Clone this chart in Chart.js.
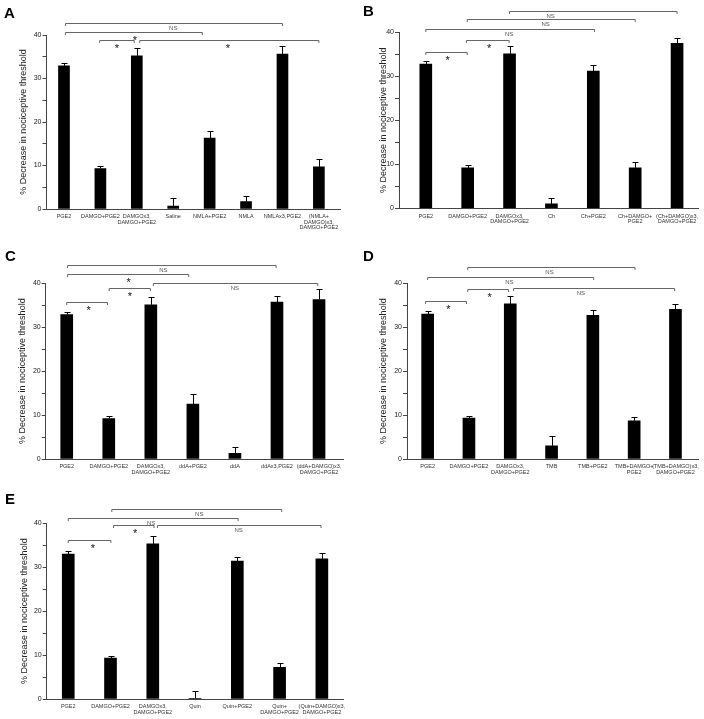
<!DOCTYPE html>
<html>
<head>
<meta charset="utf-8">
<script src="https://cdn.jsdelivr.net/npm/chart.js"></script>
<style>
  body { margin: 0; background: #fff; }
  #fig { position: relative; width: 704px; height: 719px; }
  canvas { position: absolute; }
  .lbl { position: absolute; font: bold 15px 'Liberation Sans', Arial, sans-serif; line-height: 1; color: #000; }
</style>
</head>
<body>
<div id="fig">
  <canvas id="cA" width="352" height="240" style="left:0;top:0"></canvas>
  <canvas id="cB" width="352" height="240" style="left:352px;top:0"></canvas>
  <canvas id="cC" width="352" height="240" style="left:0;top:240px"></canvas>
  <canvas id="cD" width="352" height="240" style="left:352px;top:240px"></canvas>
  <canvas id="cE" width="352" height="239" style="left:0;top:480px"></canvas>
  <div class="lbl" style="left:4px;top:5px">A</div>
  <div class="lbl" style="left:363px;top:3px">B</div>
  <div class="lbl" style="left:5px;top:248px">C</div>
  <div class="lbl" style="left:363px;top:248px">D</div>
  <div class="lbl" style="left:5px;top:491px">E</div>
</div>
<script>
// Panel A
const catsA = ['PGE2', 'DAMGO+PGE2', ['DAMGOx3,', 'DAMGO+PGE2'], 'Saline', 'NMLA+PGE2', 'NMLA', 'NMLAx3,PGE2', ['(NMLA+', 'DAMGO)x3,', 'DAMGO+PGE2']];
const valsA = [32.9, 9.3, 35.2, 0.7, 16.3, 1.7, 35.6, 9.7];
const semA = [0.6, 0.6, 1.7, 1.8, 1.7, 1.2, 1.8, 1.7];
// [from, to, level, text, text at]
const bracketsA = [[0.04, 6, 42.8, 'NS', 3], [0.04, 3.8, 40.6, '*', 1.95], [0.98, 1.93, 38.85, '*', 1.45], [2.08, 7, 38.85, '*', 4.5]];

// Panel B
const catsB = ['PGE2', 'DAMGO+PGE2', ['DAMGOx3,', 'DAMGO+PGE2'], 'Ch', 'Ch+PGE2', ['Ch+DAMGO+', 'PGE2'], ['(Ch+DAMGO)x3,', 'DAMGO+PGE2']];
const valsB = [32.8, 9.2, 35.1, 1.0, 31.2, 9.2, 37.5];
const semB = [0.6, 0.6, 1.8, 1.4, 1.3, 1.3, 1.3];
const bracketsB = [[2, 6, 44.9, 'NS', 2.98], [0.99, 5, 42.95, 'NS', 2.86], [0, 4.03, 40.8, 'NS', 1.99], [0.97, 1.99, 38.2, '*', 1.51], [0, 0.99, 35.6, '*', 0.52]];

// Panel C
const catsC = ['PGE2', 'DAMGO+PGE2', ['DAMGOx3,', 'DAMGO+PGE2'], 'ddA+PGE2', 'ddA', 'ddAx3,PGE2', ['(ddA+DAMGO)x3,', 'DAMGO+PGE2']];
const valsC = [32.9, 9.2, 35.1, 12.5, 1.3, 35.75, 36.3];
const semC = [0.6, 0.6, 1.7, 2.4, 1.35, 1.35, 2.3];
const bracketsC = [[0.02, 4.98, 44.2, 'NS', 2.3], [0.02, 2.9, 42.2, '*', 1.47], [2.06, 5.97, 40.15, 'NS', 4.0], [1.01, 1.99, 39.0, '*', 1.5], [0, 0.97, 35.8, '*', 0.52]];

// Panel D
const catsD = ['PGE2', 'DAMGO+PGE2', ['DAMGOx3,', 'DAMGO+PGE2'], 'TMB', 'TMB+PGE2', ['TMB+DAMGO+', 'PGE2'], ['(TMB+DAMGO)x3,', 'DAMGO+PGE2']];
const valsD = [33.0, 9.3, 35.3, 3.0, 32.7, 8.7, 34.1];
const semD = [0.6, 0.6, 1.7, 2.2, 1.15, 0.85, 1.1];
const bracketsD = [[0.97, 5.02, 43.6, 'NS', 2.95], [0, 4.02, 41.4, 'NS', 1.98], [0.97, 1.96, 38.6, '*', 1.5], [2.08, 5.98, 39.0, 'NS', 3.71], [-0.05, 0.94, 36.0, '*', 0.5]];

// Panel E
const catsE = ['PGE2', 'DAMGO+PGE2', ['DAMGOx3,', 'DAMGO+PGE2'], 'Quin', 'Quin+PGE2', ['Quin+', 'DAMGO+PGE2'], ['(Quin+DAMGO)x3,', 'DAMGO+PGE2']];
const valsE = [33.0, 9.3, 35.3, 0.15, 31.4, 7.2, 31.9];
const semE = [0.6, 0.6, 1.7, 1.65, 1.0, 1.1, 1.4];
const bracketsE = [[1.03, 5.05, 43.3, 'NS', 3.1], [0, 4.02, 41.2, 'NS', 1.96], [1.07, 2.03, 39.6, '*', 1.58], [2.11, 5.98, 39.5, 'NS', 4.03], [0, 1.01, 36.2, '*', 0.58]];

const FONT = "'Liberation Sans', Arial, sans-serif";

// error bars (upper only) and the significance brackets
const marks = {
  id: 'marks',
  afterDatasetsDraw(chart, args, opts) {
    const { ctx, scales: { x, y } } = chart;
    const ds = chart.data.datasets[0];
    ctx.save();
    ctx.strokeStyle = '#000';
    ctx.lineWidth = 1;
    ds.data.forEach((p, i) => {
      const px = Math.round(x.getPixelForValue(p.x)) + 0.5;
      const y0 = y.getPixelForValue(p.y);
      const y1 = Math.round(y.getPixelForValue(p.y + ds.sem[i])) + 0.5;
      ctx.beginPath();
      ctx.moveTo(px, y0);
      ctx.lineTo(px, y1);
      ctx.moveTo(px - 3, y1);
      ctx.lineTo(px + 3, y1);
      ctx.stroke();
    });
    ctx.textAlign = 'center';
    ctx.textBaseline = 'middle';
    opts.brackets.forEach(b => {
      const xa = x.getPixelForValue(b[0]);
      const xb = x.getPixelForValue(b[1]);
      const yl = Math.round(y.getPixelForValue(b[2])) + 0.5;
      ctx.strokeStyle = '#666';
      ctx.beginPath();
      ctx.moveTo(xa, yl + 2.5);
      ctx.lineTo(xa, yl);
      ctx.lineTo(xb, yl);
      ctx.lineTo(xb, yl + 2.5);
      ctx.stroke();
      const tx = x.getPixelForValue(b[4]);
      if (b[3] === '*') {
        ctx.fillStyle = '#111';
        ctx.font = '11px ' + FONT;
        ctx.fillText('*', tx, yl + 8);
      } else {
        ctx.fillStyle = '#555';
        ctx.font = '6px ' + FONT;
        ctx.fillText(b[3], tx, yl + 5);
      }
    });
    ctx.restore();
  }
};

function makePanel(id, cats, vals, sem, brackets, box) {
  const W = 352;
  new Chart(document.getElementById(id), {
    type: 'bar',
    data: {
      datasets: [{
        data: vals.map((v, i) => ({ x: i, y: v })),
        sem: sem,
        backgroundColor: '#000',
        barThickness: box.bar
      }]
    },
    options: {
      responsive: false,
      animation: false,
      layout: { padding: { left: 0, top: box.top, right: W - box.right, bottom: 0 } },
      plugins: {
        legend: { display: false },
        tooltip: { enabled: false },
        marks: { brackets: brackets }
      },
      scales: {
        x: {
          type: 'linear',
          offset: false,
          min: box.xmin,
          max: box.xmax,
          grid: { display: false, drawTicks: false, offset: false },
          border: { display: true, color: '#444', width: 1 },
          afterBuildTicks: a => { a.ticks = cats.map((c, i) => ({ value: i })); },
          afterFit: a => { a.height = box.h - box.bottom; },
          ticks: {
            callback: (v, i) => cats[i],
            maxRotation: 0,
            autoSkip: false,
            padding: 5,
            color: '#333',
            font: { family: FONT, size: 5.5, lineHeight: 1 }
          }
        },
        y: {
          min: 0,
          max: 40,
          afterFit: a => { a.width = box.left; },
          ticks: {
            stepSize: 5,
            callback: v => (v % 10 === 0 ? v : ''),
            padding: 1,
            color: '#222',
            font: { family: FONT, size: 7 }
          },
          grid: { drawOnChartArea: false, drawTicks: true, tickLength: 4, color: '#444' },
          border: { display: true, color: '#444', width: 1 },
          title: {
            display: true,
            text: '% Decrease in nociceptive threshold',
            color: '#222',
            font: { family: FONT, size: 9 },
            padding: { top: box.title, bottom: 0 }
          }
        }
      }
    },
    plugins: [marks]
  });
}

makePanel('cA', catsA, valsA, semA, bracketsA, { h: 240, left: 46.5, right: 340, top: 35, bottom: 209, xmin: -0.48, xmax: 7.58, bar: 11, title: 18.6 });
makePanel('cB', catsB, valsB, semB, bracketsB, { h: 240, left: 47, right: 346, top: 32.3, bottom: 208.3, xmin: -0.64, xmax: 6.5, bar: 12, title: 26.6 });
makePanel('cC', catsC, valsC, semC, bracketsC, { h: 240, left: 45.7, right: 343, top: 43.3, bottom: 219, xmin: -0.5, xmax: 6.57, bar: 12, title: 17.6 });
makePanel('cD', catsD, valsD, semD, bracketsD, { h: 240, left: 55, right: 349, top: 43.3, bottom: 219, xmin: -0.5, xmax: 6.55, bar: 12, title: 26.6 });
makePanel('cE', catsE, valsE, semE, bracketsE, { h: 239, left: 46.7, right: 343, top: 43.3, bottom: 219, xmin: -0.51, xmax: 6.5, bar: 12, title: 19.6 });
</script>
</body>
</html>
